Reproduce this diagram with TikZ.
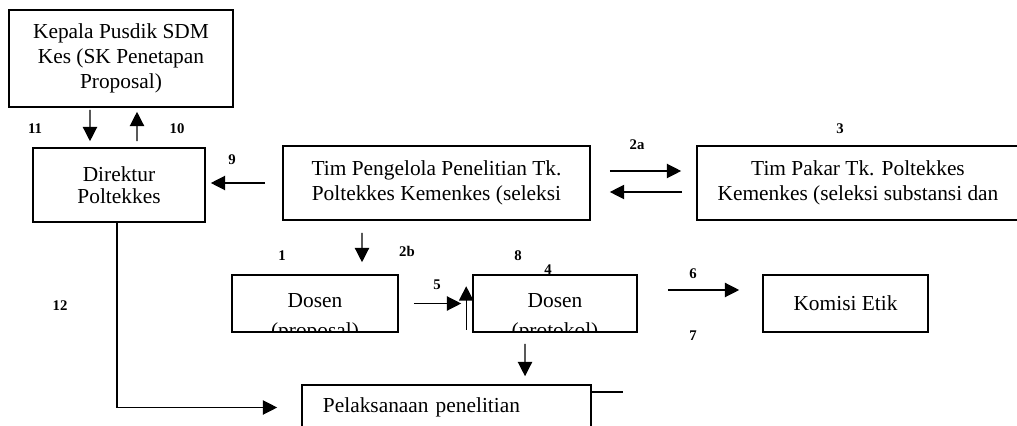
\documentclass[tikz,border=0pt]{standalone}
\usepackage{fontspec}
\setmainfont{Liberation Serif}
\usetikzlibrary{arrows.meta}
\begin{document}
\begin{tikzpicture}[x=0.025cm,y=-0.025cm]
%gaya
\tikzstyle{kotak}=[draw,line width=1.1pt,inner sep=0pt,align=center,font=\fontsize{15.2}{17.8}\selectfont]
\tikzstyle{tulisan}=[inner sep=0pt,font=\fontsize{15.2}{17.8}\selectfont]
\tikzstyle{nomor}=[inner sep=0pt,font=\fontsize{10.5}{12}\selectfont\bfseries]
\tikzstyle{panah}=[-{Triangle[length=0.36cm,width=0.36cm]},line width=0.9pt]
\useasboundingbox (0,0) rectangle (1017,426);

%kotak
\node[kotak,minimum width=5.6cm,minimum height=2.425cm] (kepala) at (121,58.5) {Kepala Pusdik SDM\\Kes (SK Penetapan\\Proposal)};
\node[kotak,minimum width=4.3cm,minimum height=1.85cm,font=\fontsize{15.2}{15.5}\selectfont] (direktur) at (119,185) {Direktur\\Poltekkes};
\node[kotak,minimum width=7.675cm,minimum height=1.85cm] (pengelola) at (436.5,183) {Tim Pengelola Penelitian Tk.\\Poltekkes Kemenkes (seleksi};
\node[kotak,minimum width=8.05cm,minimum height=1.85cm] (pakar) at (858,183) {Tim Pakar Tk. Poltekkes\\Kemenkes (seleksi substansi dan};
\node[kotak,minimum width=4.15cm,minimum height=1.425cm] (proposal) at (315,303.5) {};
\node[kotak,minimum width=4.1cm,minimum height=1.425cm] (protokol) at (555,303.5) {};
\node[kotak,minimum width=4.125cm,minimum height=1.425cm] (etik) at (845.5,303.5) {Komisi Etik};
\node[kotak,text width=6.175cm,inner xsep=0.525cm,minimum height=1.125cm,align=left] (pelaksanaan) at (446.5,407.5) {Pelaksanaan penelitian};

%teks terpotong
\begin{scope}
  \clip (proposal.north west) rectangle (proposal.south east);
  \node[tulisan,anchor=base] (proposalA) at (315,307) {Dosen};
  \node[tulisan,anchor=base] (proposalB) at (315,337) {(proposal)};
\end{scope}
\begin{scope}
  \clip (protokol.north west) rectangle (protokol.south east);
  \node[tulisan,anchor=base] (protokolA) at (555,307) {Dosen};
  \node[tulisan,anchor=base] (protokolB) at (555,337) {(protokol)};
\end{scope}

%panah
\draw[panah,shorten <=0.05cm,shorten >=0.15cm] ([xshift=-0.775cm]kepala.south) -- ([xshift=-0.725cm]direktur.north);
\draw[panah,shorten <=0.15cm,shorten >=0.1cm] ([xshift=0.45cm]direktur.north) -- ([xshift=0.4cm]kepala.south);
\draw[panah,shorten <=0.425cm,shorten >=0.125cm] (pengelola.west) -- (pengelola.west -| direktur.east);
\draw[panah,shorten <=0.475cm,shorten >=0.375cm] ([yshift=0.3cm]pengelola.east) -- ([yshift=0.3cm]pakar.west);
\draw[panah,shorten <=0.35cm,shorten >=0.475cm] ([yshift=-0.225cm]pakar.west) -- ([yshift=-0.225cm]pengelola.east);
\draw[panah,shorten <=0.3cm,shorten >=0.3cm] ([xshift=-1.8625cm]pengelola.south) -- ([xshift=1.175cm]proposal.north);
\draw[panah,shorten <=0.375cm,shorten >=0.275cm] (proposal.east) -- (protokol.west);
\draw[panah] ([xshift=-0.15cm,yshift=0.075cm]protokol.south west) -- ([xshift=-0.15cm,yshift=-0.3cm]protokol.north west);
\draw[panah,shorten <=0.75cm,shorten >=0.575cm] ([yshift=0.3375cm]protokol.east) -- ([yshift=0.3375cm]etik.west);
\draw[panah,shorten <=0.275cm,shorten >=0.2cm] ([xshift=-0.75cm]protokol.south) -- ([xshift=1.9625cm]pelaksanaan.north);
\draw[panah,shorten >=0.6cm] ([xshift=-0.05cm]direktur.south) |- (pelaksanaan.west);
\coordinate (ujung) at (623,392);
\draw[line width=0.9pt] (pelaksanaan.east |- ujung) -- (ujung);

%nomor
\node[nomor] (n11) at (35,129) {11};
\node[nomor] (n10) at (177,129) {10};
\node[nomor] (n9) at (232,160) {9};
\node[nomor] (n2a) at (637,145) {2a};
\node[nomor] (n3) at (840,129) {3};
\node[nomor] (n1) at (282,256) {1};
\node[nomor] (n2b) at (407,251) {2b};
\node[nomor] (n8) at (518,256) {8};
\node[nomor] (n4) at (548,270) {4};
\node[nomor] (n5) at (437,285) {5};
\node[nomor] (n6) at (693,274) {6};
\node[nomor] (n7) at (693,336) {7};
\node[nomor] (n12) at (60,306) {12};

\end{tikzpicture}
\end{document}
